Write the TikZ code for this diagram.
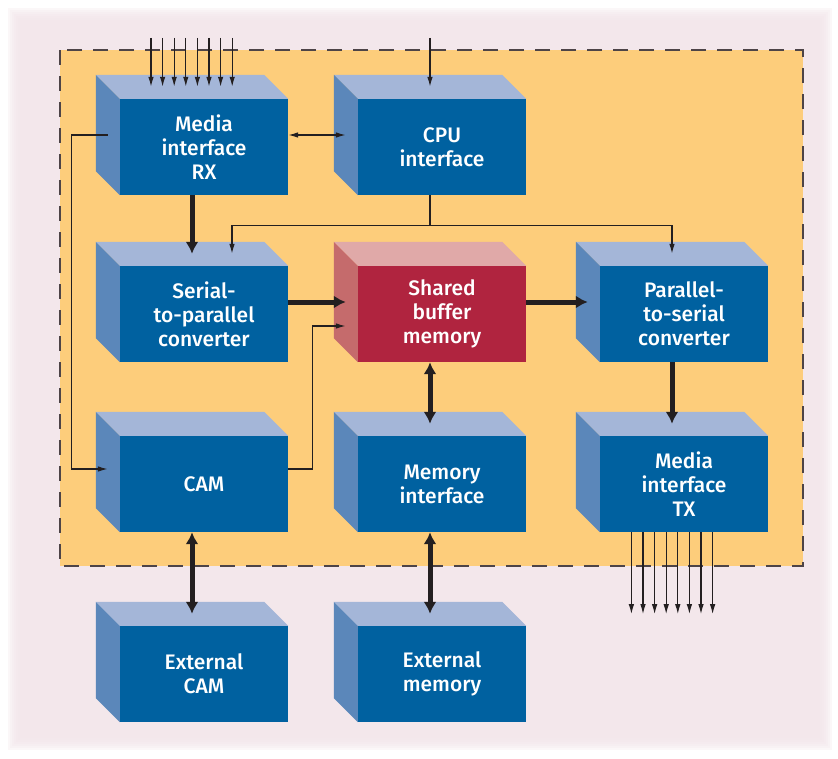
\documentclass[tikz,border=0pt]{standalone}
\usepackage{fontspec}
\setmainfont{Fira Sans Medium}
\usetikzlibrary{arrows.meta}

\definecolor{bgpink}{HTML}{F3E7EB}
\definecolor{chipfill}{HTML}{FDCD7B}
\definecolor{edgegray}{HTML}{4D4447}
\definecolor{frontblue}{HTML}{0061A0}
\definecolor{topblue}{HTML}{A4B6D8}
\definecolor{sideblue}{HTML}{5B87BA}
\definecolor{frontred}{HTML}{B0243F}
\definecolor{topred}{HTML}{E0A9A8}
\definecolor{sidered}{HTML}{C56B6C}
\definecolor{wire}{HTML}{231F20}

\tikzset{
  block/.style={fill=frontblue, minimum width=168pt, minimum height=96pt, inner sep=0pt,
    text=white, align=center, font=\fontsize{21}{24}\selectfont},
  redblock/.style={block, fill=frontred},
  thinwire/.style={draw=wire, line width=1.2pt},
  thinarrow/.style={thinwire, -{Latex[length=10pt,width=5.5pt]}},
  thinboth/.style={thinwire, {Latex[length=10pt,width=5.5pt]}-{Latex[length=10pt,width=5.5pt]}},
  thickarrow/.style={draw=wire, line width=5pt, -{Latex[length=12pt,width=13pt]}},
  thickboth/.style={draw=wire, line width=5pt, {Latex[length=12pt,width=13pt]}-{Latex[length=12pt,width=13pt]}},
}

% top and left faces of a block: node, top colour, side colour
\newcommand\blockfaces[3]{%
  \fill[#2] (#1.north west) -- ++(-24,-24) -- ([shift={(-24,-24)}]#1.north east) -- (#1.north east) -- cycle;
  \fill[#3] (#1.north west) -- ++(-24,-24) -- ([shift={(-24,-24)}]#1.south west) -- (#1.south west) -- cycle;
}

\begin{document}
\begin{tikzpicture}[x=1pt,y=-1pt]
                \useasboundingbox (0,0) rectangle (838,758);
                \fill[white] (0,0) rectangle (838,758);
                \foreach \k in {0,...,7}
                    \fill[bgpink,opacity=0.3] (8+2*\k,8+2*\k) rectangle (832-2*\k,750-2*\k);

                % chip boundary
                \fill[chipfill] (60,50) rectangle (803,566);
                \draw[edgegray,line width=2pt,dash pattern=on 15pt off 11pt] (60,50) rectangle (803,566);

                \node[block] (rx) at (204,147) {Media\\interface\\RX};
                \node[block] (cpu) at (442,147) {CPU\\interface};
                \node[block] (ser) at (204,314) {Serial-\\to-parallel\\converter};
                \node[redblock] (shm) at (442,314) {Shared\\buffer\\memory};
                \node[block] (par) at (684,314) {Parallel-\\to-serial\\converter};
                \node[block] (cam) at (204,484) {CAM};
                \node[block] (memif) at (442,484) {Memory\\interface};
                \node[block] (tx) at (684,484) {Media\\interface\\TX};
                \node[block] (extcam) at (204,674) {External\\CAM};
                \node[block] (extmem) at (442,674) {External\\memory};

                \foreach \b in {rx,cpu,ser,par,cam,memif,tx,extcam,extmem}
                    {\blockfaces{\b}{topblue}{sideblue}}
                \blockfaces{shm}{topred}{sidered}

                % serial lines in and out
                \foreach \i in {0,...,7}
                    \draw[thinarrow] ([shift={(-53+11.6*\i,-61)}]rx.north) -- ([shift={(-53+11.6*\i,-12)}]rx.north);
                \draw[thinarrow] ([shift={(-12,-61)}]cpu.north) -- ([shift={(-12,-12)}]cpu.north);
                \foreach \i in {0,...,7}
                    \draw[thinarrow] ([shift={(-52.6+11.6*\i,0)}]tx.south) -- ([shift={(-52.6+11.6*\i,82)}]tx.south);

                % control wiring
                \draw[thinboth] ([shift={(0,-12)}]rx.east) -- ([shift={(-12,-12)}]cpu.west);
                \draw[thinarrow] ([shift={(-12,-12)}]rx.west) -- ++(-36,0) |- ([shift={(-12,-15)}]cam.west);
                \draw[thinarrow] ([shift={(0,-15)}]cam.east) -- ++(24,0) |- ([shift={(-12,12)}]shm.west);
                \coordinate (bus) at ([shift={(-12,30)}]cpu.south);
                \draw[thinwire] ([shift={(-12,0)}]cpu.south) -- (bus);
                \draw[thinarrow] (bus) -| ([shift={(28,-12)}]ser.north);
                \draw[thinarrow] (bus) -| ([shift={(-12,-12)}]par.north);

                % data path
                \draw[thickarrow] ([shift={(-12,0)}]rx.south) -- ([shift={(-12,-12)}]ser.north);
                \draw[thickarrow] ([shift={(0,-12)}]ser.east) -- ([shift={(-12,-12)}]shm.west);
                \draw[thickarrow] ([shift={(0,-12)}]shm.east) -- ([shift={(-12,-12)}]par.west);
                \draw[thickarrow] ([shift={(-12,0)}]par.south) -- ([shift={(-12,-12)}]tx.north);
                \draw[thickboth] ([shift={(-12,0)}]shm.south) -- ([shift={(-12,-12)}]memif.north);
                \draw[thickboth] ([shift={(-12,0)}]cam.south) -- ([shift={(-12,-12)}]extcam.north);
                \draw[thickboth] ([shift={(-12,0)}]memif.south) -- ([shift={(-12,-12)}]extmem.north);
            \end{tikzpicture}
\end{document}
